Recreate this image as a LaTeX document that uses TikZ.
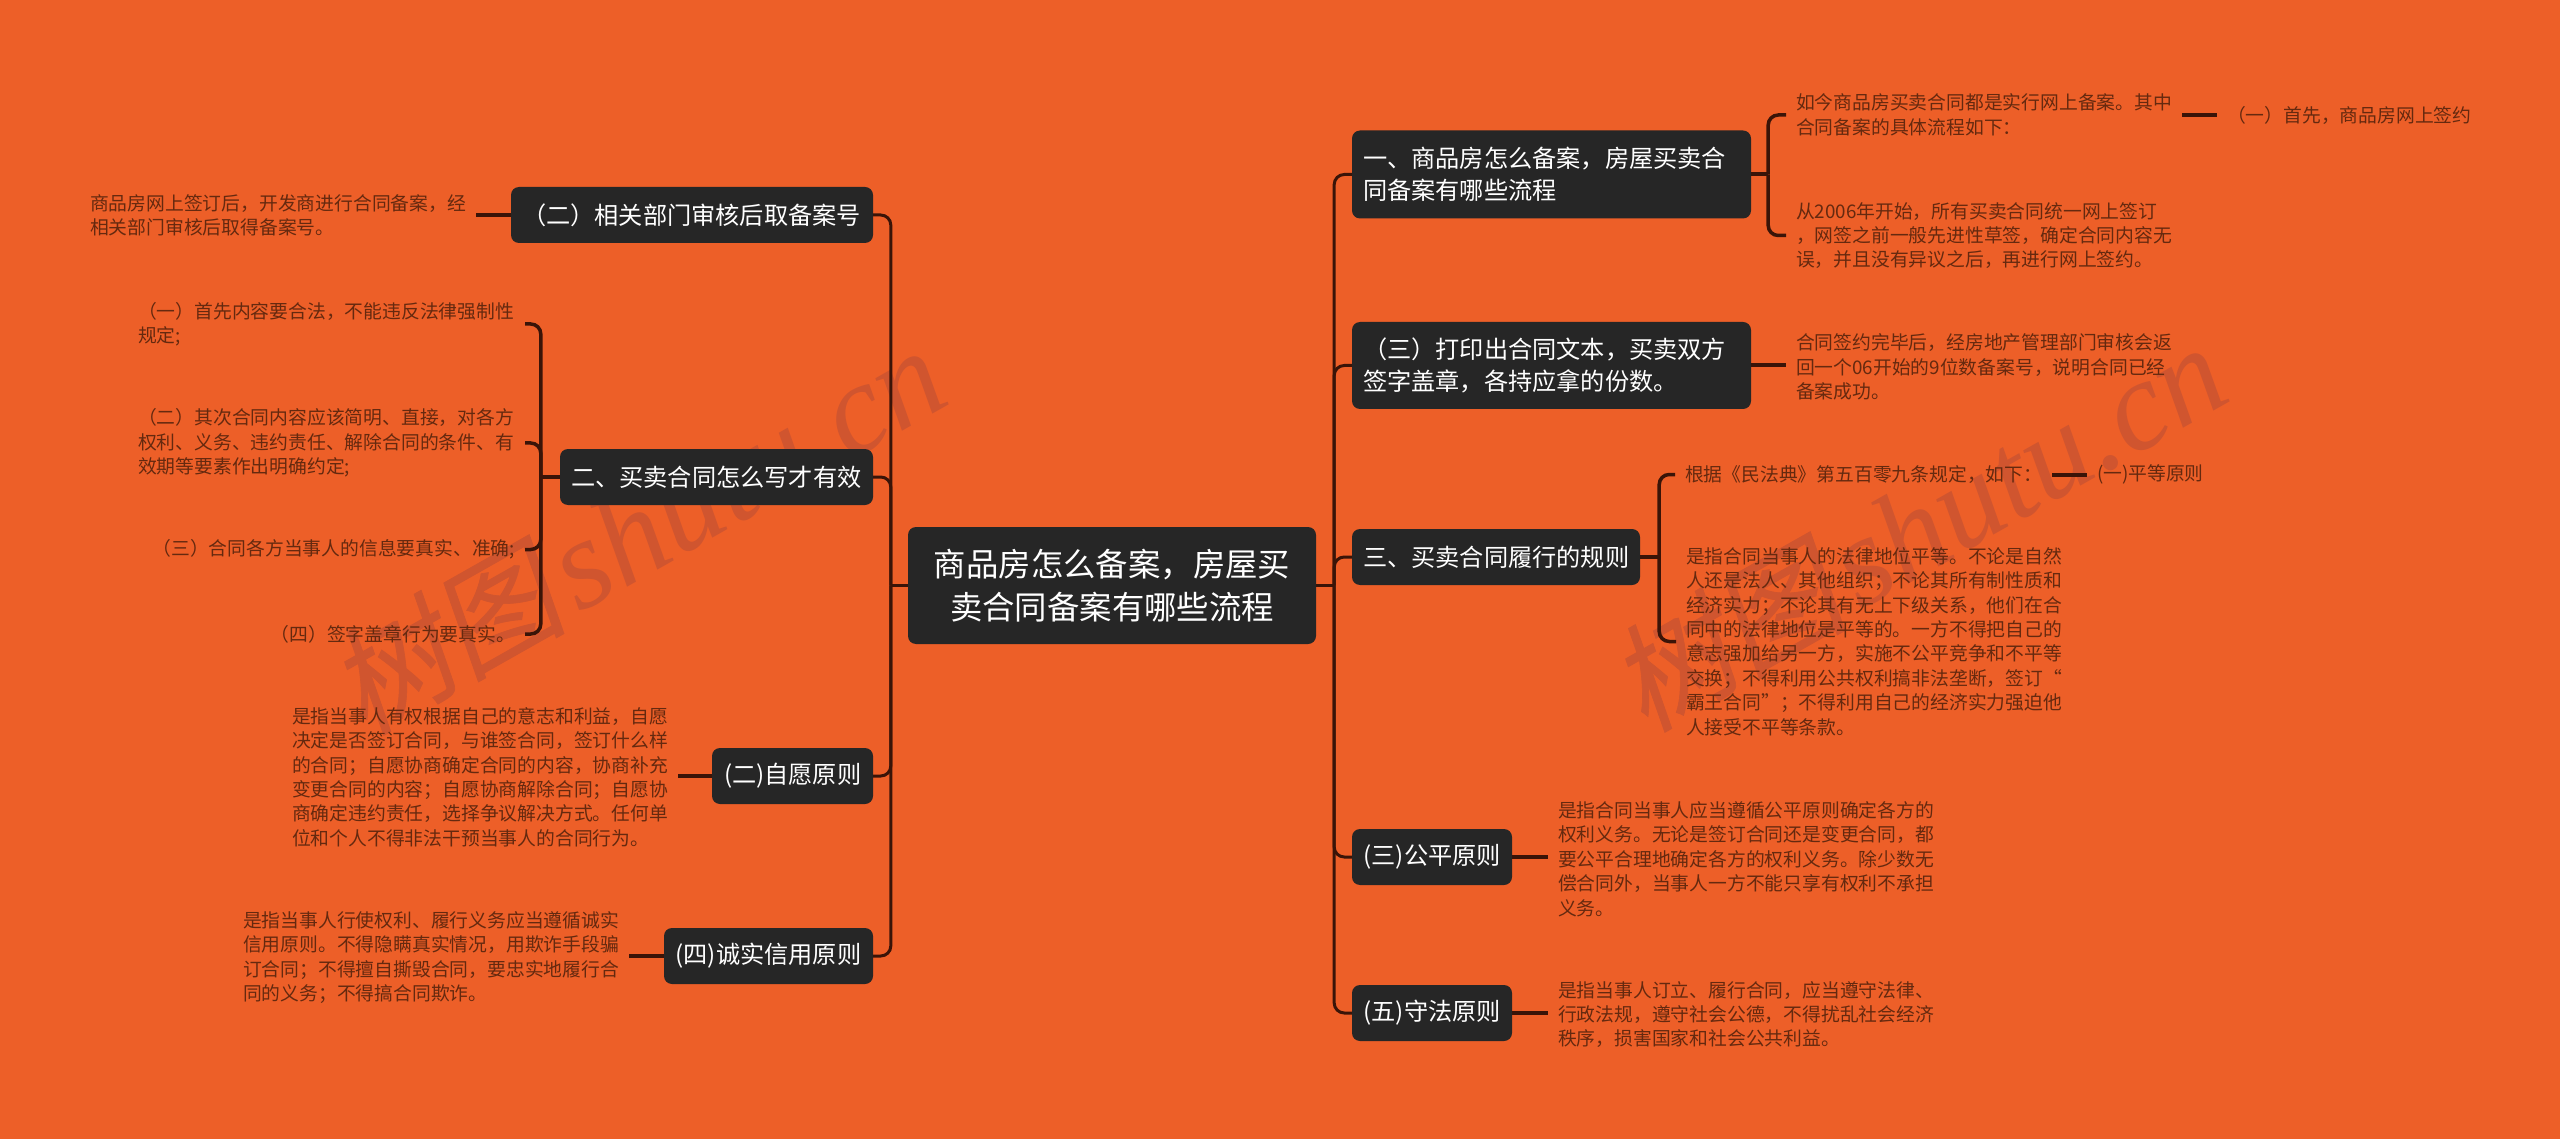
\documentclass[tikz,border=0pt]{standalone}
\usepackage{fontspec}
\usetikzlibrary{calc}
\setmainfont{Noto Sans CJK SC}
\newfontfamily\wmcjk[FakeSlant=0.18,FakeBold=0.5]{Noto Sans CJK SC}
\newfontfamily\wmlat{Liberation Serif}[ItalicFont=* Italic]
\definecolor{bgc}{HTML}{ED5F28}
\definecolor{boxc}{HTML}{262626}
\definecolor{linec}{HTML}{3A1408}
\definecolor{leafc}{HTML}{65290F}
\definecolor{wmc}{HTML}{D0552F}
\tikzset{
  topicbox/.style={fill=boxc,text=white,rounded corners=8pt,inner sep=0pt,align=left,
    font=\fontsize{24.2}{32}\selectfont},
  rootbox/.style={fill=boxc,text=white,rounded corners=8pt,inner sep=0pt,align=center,
    font=\fontsize{32.4}{43}\selectfont},
  leaf/.style={text=leafc,inner ysep=0pt,inner xsep=0pt,outer xsep=10pt,outer ysep=0pt,align=left,
    font=\fontsize{18.8}{24.4}\selectfont},
  conn/.style={draw=linec,line width=3pt,rounded corners=10pt},
  stub/.style={draw=linec,line width=4pt},
  wm/.style={text=wmc,rotate=29.5,inner sep=0pt}
}
\newcommand{\wmtext}{{\fontsize{118}{118}\selectfont\wmcjk 树图\hspace{12pt}\fontsize{128}{128}\selectfont\wmlat\itshape shutu.cn}}
\begin{document}
\begin{tikzpicture}[x=1pt,y=-1pt]
\useasboundingbox (0,0) rectangle (2560,1139);
\fill[bgc] (0,0) rectangle (2560,1139);
\node[wm] (wmL) at (637,530) {\wmtext};
\node[wm] (wmR) at (1918,527) {\wmtext};

% root
\node[rootbox,minimum width=408pt,minimum height=117pt] (root) at (1112,585.5)
  {商品房怎么备案，房屋买\\卖合同备案有哪些流程};

% left topics
\node[topicbox,minimum width=362pt,minimum height=56pt,text width=340pt] (L1) at (692,215) {（二）相关部门审核后取备案号};
\node[topicbox,minimum width=313pt,minimum height=56pt,text width=291pt] (L2) at (716.5,477) {二、买卖合同怎么写才有效};
\node[topicbox,minimum width=161pt,minimum height=56pt,text width=137pt] (L3) at (792.5,776) {(二)自愿原则};
\node[topicbox,minimum width=209pt,minimum height=56pt,text width=186pt] (L4) at (768.5,956) {(四)诚实信用原则};

% right topics
\node[topicbox,minimum width=399pt,minimum height=88pt,text width=377pt] (R1) at (1551.5,174.5) {一、商品房怎么备案，房屋买卖合\\同备案有哪些流程};
\node[topicbox,minimum width=399pt,minimum height=87pt,text width=377pt] (R2) at (1551.5,365.5) {（三）打印出合同文本，买卖双方\\签字盖章，各持应拿的份数。};
\node[topicbox,minimum width=288pt,minimum height=56pt,text width=266pt] (R3) at (1496,557) {三、买卖合同履行的规则};
\node[topicbox,minimum width=160pt,minimum height=56pt,text width=137pt] (R4) at (1432,857) {(三)公平原则};
\node[topicbox,minimum width=160pt,minimum height=56pt,text width=137pt] (R5) at (1432,1013) {(五)守法原则};

% left leaves
\node[leaf,anchor=east] (a1) at (476,215.5) {商品房网上签订后，开发商进行合同备案，经\\相关部门审核后取得备案号。};
\node[leaf,anchor=east,text width=377pt] (a2) at (525,324) {（一）首先内容要合法，不能违反法律强制性\\规定;};
\node[leaf,anchor=east,text width=377pt] (a3) at (525,443) {（二）其次合同内容应该简明、直接，对各方\\权利、义务、违约责任、解除合同的条件、有\\效期等要素作出明确约定;};
\node[leaf,anchor=east] (a4) at (525,549.5) {（三）合同各方当事人的信息要真实、准确;};
\node[leaf,anchor=east] (a5) at (525,634) {（四）签字盖章行为要真实。};
\node[leaf,anchor=east] (a6) at (678,777) {是指当事人有权根据自己的意志和利益，自愿\\决定是否签订合同，与谁签合同，签订什么样\\的合同；自愿协商确定合同的内容，协商补充\\变更合同的内容；自愿协商解除合同；自愿协\\商确定违约责任，选择争议解决方式。任何单\\位和个人不得非法干预当事人的合同行为。};
\node[leaf,anchor=east] (a7) at (629,957.5) {是指当事人行使权利、履行义务应当遵循诚实\\信用原则。不得隐瞒真实情况，用欺诈手段骗\\订合同；不得擅自撕毁合同，要忠实地履行合\\同的义务；不得搞合同欺诈。};

% right leaves
\node[leaf,anchor=west] (b1) at (1786,115) {如今商品房买卖合同都是实行网上备案。其中\\合同备案的具体流程如下：};
\node[leaf,anchor=west] (b2) at (2217,115.5) {（一）首先，商品房网上签约};
\node[leaf,anchor=west] (b3) at (1786,235.5) {从2006年开始，所有买卖合同统一网上签订\\，网签之前一般先进性草签，确定合同内容无\\误，并且没有异议之后，再进行网上签约。};
\node[leaf,anchor=west] (b4) at (1786,367) {合同签约完毕后，经房地产管理部门审核会返\\回一个06开始的9位数备案号，说明合同已经\\备案成功。};
\node[leaf,anchor=west] (b5) at (1675,474.5) {根据《民法典》第五百零九条规定，如下：};
\node[leaf,anchor=west] (b6) at (2087,474.5) {(一)平等原则};
\node[leaf,anchor=west] (b7) at (1676,641.5) {是指合同当事人的法律地位平等。不论是自然\\人还是法人、其他组织；不论其所有制性质和\\经济实力；不论其有无上下级关系，他们在合\\同中的法律地位是平等的。一方不得把自己的\\意志强加给另一方，实施不公平竞争和不平等\\交换；不得利用公共权利搞非法垄断，签订“\\霸王合同”；不得利用自己的经济实力强迫他\\人接受不平等条款。};
\node[leaf,anchor=west] (b8) at (1548,859) {是指合同当事人应当遵循公平原则确定各方的\\权利义务。无论是签订合同还是变更合同，都\\要公平合理地确定各方的权利义务。除少数无\\偿合同外，当事人一方不能只享有权利不承担\\义务。};
\node[leaf,anchor=west] (b9) at (1548,1014.5) {是指当事人订立、履行合同，应当遵守法律、\\行政法规，遵守社会公德，不得扰乱社会经济\\秩序，损害国家和社会公共利益。};

% junctions
\coordinate (jL) at ($(root.west)+(-17,0)$);
\coordinate (jR) at ($(root.east)+(18,0)$);
\coordinate (jL2) at ($(L2.west)+(-19,0)$);
\coordinate (jR1) at ($(R1.east)+(17,0)$);
\coordinate (jR3) at ($(R3.east)+(19,0)$);

% trunk connectors
\draw[stub,line width=3pt] (root.west) -- (jL);
\draw[stub,line width=3pt] (root.east) -- (jR);
\foreach \n in {L1,L2,L3,L4} \draw[conn] (jL) |- (\n.east);
\foreach \n in {R1,R2,R3,R4,R5} \draw[conn] (jR) |- (\n.west);

% sub connectors
\draw[stub] (L1.west) -- (L1.west -| a1.east);
\draw[stub] (L3.west) -- (L3.west -| a6.east);
\draw[stub] (L4.west) -- (L4.west -| a7.east);
\draw[stub] (L2.west) -- (jL2);
\foreach \n in {a2,a3,a4,a5} \draw[conn,line width=3.5pt] (jL2) |- (\n.east);
\draw[stub] (R1.east) -- (jR1);
\foreach \n in {b1,b3} \draw[conn,line width=3.5pt] (jR1) |- (\n.west);
\draw[stub] (b1.east) -- (b1.east -| b2.west);
\draw[stub] (R2.east) -- (R2.east -| b4.west);
\draw[stub] (R3.east) -- (jR3);
\foreach \n in {b5,b7} \draw[conn,line width=3.5pt] (jR3) |- (\n.west);
\draw[stub] (b5.east) -- (b5.east -| b6.west);
\draw[stub] (R4.east) -- (R4.east -| b8.west);
\draw[stub] (R5.east) -- (R5.east -| b9.west);
\end{tikzpicture}
\end{document}
